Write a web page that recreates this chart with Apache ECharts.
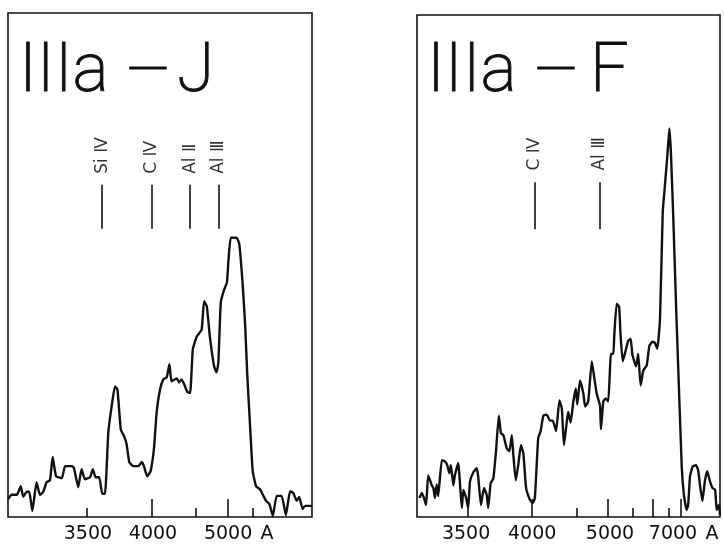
<!DOCTYPE html>
<html>
<head>
<meta charset="utf-8">
<script src="https://cdn.jsdelivr.net/npm/echarts@6/dist/echarts.min.js"></script>
<style>
html,body{margin:0;padding:0;background:#fff;}
#chart{width:724px;height:544px;}
</style>
</head>
<body>
<div id="chart"></div>
<script>
// ---- Data (plate position 0-100 across each box, relative intensity 0-100) ----
const leftPos = [0.1,1.2,2.9,4.2,5.0,6.2,7.0,8.0,9.4,10.5,11.6,12.7,13.8,14.7,15.8,17.7,18.8,21.0,21.7,23.1,24.2,25.3,27.0,27.9,28.8,30.0,31.0,31.9,33.0,34.1,35.2,36.0,37.1,38.2,39.0,39.9,41.2,42.9,44.0,44.7,45.8,46.9,48.0,48.9,50.0,51.1,52.2,53.1,53.8,55.5,56.3,57.1,58.0,59.0,59.9,60.8,62.1,63.7,64.5,65.4,66.4,67.8,68.6,69.2,70.0,71.1,72.0,72.5,73.3,75.2,76.1,77.2,78.0,78.7,79.6,80.5,81.6,82.9,84.0,84.9,86.0,87.1,88.4,90.0,91.4,92.8,93.8,95.0,95.8,96.9,97.7,100];
const leftIntensity = [3.6,4.4,4.4,6.1,4.0,5.0,5.0,1.2,6.9,4.4,5.0,6.9,7.3,11.9,8.1,7.7,10.1,10.1,9.7,5.9,9.5,7.5,7.9,9.5,7.9,7.9,4.6,4.6,16.8,22.0,25.9,25.3,17.4,16.0,14.5,10.9,10.1,10.1,10.9,10.1,8.1,9.1,13.5,20.8,25.3,27.3,27.7,30.3,26.9,27.5,26.7,27.3,26.3,24.8,24.6,33.3,35.8,37.2,42.8,41.8,35.8,29.9,28.7,30.7,42.6,45.1,46.5,50.7,55.4,55.4,54.1,46.1,38.2,28.3,18.4,9.1,6.1,5.5,4.2,3.2,2.6,0.2,4.2,4.2,0.4,5.1,4.8,3.2,4.0,1.6,2.2,2.2];

const rightPos = [0.8,1.6,2.3,3.0,3.7,4.9,5.4,5.9,6.5,7.0,8.2,9.2,10.0,10.7,11.2,12.0,12.5,13.6,14.8,15.3,16.2,16.9,17.5,18.6,19.7,20.2,21.1,22.1,23.0,23.5,24.3,25.2,26.1,27.0,27.7,28.5,29.6,30.5,31.3,31.8,32.6,33.4,34.3,35.1,36.0,37.3,38.2,38.9,40.0,40.8,41.7,42.8,43.9,44.8,45.9,47.0,47.8,48.5,49.4,49.9,50.7,51.6,52.4,52.9,53.8,54.9,55.5,56.5,57.7,58.4,59.3,60.4,60.7,61.5,62.3,63.1,63.7,64.0,64.8,65.1,65.9,66.7,67.2,67.9,68.6,69.7,70.5,71.1,72.3,73.0,73.8,74.7,75.8,76.7,77.7,78.5,79.3,80.2,81.1,81.8,82.7,83.3,83.8,84.6,85.5,86.6,87.4,88.1,89.0,89.5,90.1,91.0,92.1,92.8,93.4,94.2,95.0,95.8,96.7,97.5,98.4,98.9,99.6,100];
const rightIntensity = [3.8,4.8,3.8,2.4,8.3,6.3,5.8,3.8,6.5,4.2,11.3,11.1,10.3,8.7,10.3,6.3,8.3,10.7,1.8,5.4,3.8,1.8,7.1,8.9,9.7,8.1,2.4,5.8,4.4,1.8,6.7,7.7,13.3,20.2,16.7,16.3,13.7,13.1,16.3,12.3,7.3,10.3,14.3,12.7,5.8,3.4,2.8,3.8,15.7,17.1,20.2,20.4,19.2,19.2,17.1,23.2,21.6,14.3,18.8,21.0,18.8,23.0,25.6,22.4,27.2,24.6,22.0,23.0,31.0,28.2,24.6,22.2,17.5,23.0,23.6,23.0,29.6,32.5,32.5,36.1,42.5,41.9,36.1,31.0,32.5,35.1,35.5,32.3,30.0,32.5,26.2,29.2,30.2,34.1,34.9,34.7,33.5,39.5,60.7,65.9,72.6,77.4,72.6,59.3,42.1,23.0,9.7,4.4,1.4,2.4,8.1,10.1,10.3,9.3,6.3,3.2,7.1,9.1,7.1,5.8,5.4,1.4,2.4,0.4];

// wavelength ticks (plate positions)
const leftMajorTicks = [47.4, 72.4];              // 4000, 5000
const leftMinorTicks = [26.0, 61.8, 80.6];        // 3500, 4500, 5500
const leftTickLabels = ['3500', '4000', '5000', 'A'];
const leftTickLabelPos = [26.3, 47.7, 72.4, 85.2];

const rightMajorTicks = [16.8, 38.0, 63.1, 77.7, 87.1]; // 3500, 4000, 5000, 6000, 7000
const rightMinorTicks = [52.8, 71.1, 83.2];             // 4500, 5500, 6500
const rightTickLabels = ['3500', '4000', '5000', '7000', 'A'];
const rightTickLabelPos = [16.2, 38.0, 63.7, 84.5, 97.4];

// emission line identifications
const leftLineNames = ['Si Ⅳ', 'C Ⅳ', 'Al Ⅱ', 'Al Ⅲ'];
const leftLinePos = [31.0, 47.3, 59.9, 69.2];
const rightLineNames = ['C Ⅳ', 'Al Ⅲ'];
const rightLinePos = [38.9, 60.2];

// panel titles
const leftTitle = ['IIIa', '—', 'J'];
const rightTitle = ['IIIa', '—', 'F'];

// ---- Build ----
const INK = '#111';
const zip = (a, b) => a.map((v, i) => [v, b[i]]);

function xAxes(grid, major, minor, labelPos, labels) {
  return [
    {
      gridIndex: grid, type: 'value', min: 0, max: 100, position: 'bottom',
      axisLine: { show: false }, splitLine: { show: false },
      axisTick: { show: true, inside: true, length: 18, customValues: major, lineStyle: { color: INK, width: 1.6 } },
      axisLabel: {
        show: true, customValues: labelPos, margin: 8,
        formatter: v => labels[labelPos.indexOf(v)],
        fontFamily: 'DejaVu Sans', fontSize: 19, color: INK
      }
    },
    {
      gridIndex: grid, type: 'value', min: 0, max: 100, position: 'bottom', offset: 0,
      axisLine: { show: false }, splitLine: { show: false },
      axisTick: { show: true, inside: true, length: 9, customValues: minor, lineStyle: { color: INK, width: 1.6 } },
      axisLabel: { show: false }
    }
  ];
}

function labelSeries(xi, yi, names, pos, labelY, lineLo, lineHi) {
  return {
    type: 'scatter', xAxisIndex: xi, yAxisIndex: yi, symbolSize: 0, silent: true,
    data: pos.map((p, i) => ({ value: [p, labelY], name: names[i] })),
    label: {
      show: true, position: 'inside', formatter: p => p.name, rotate: 90,
      align: 'left', verticalAlign: 'middle',
      fontFamily: 'DejaVu Sans', fontSize: 17, color: '#000'
    },
    markLine: {
      silent: true, symbol: ['none', 'none'], animation: false,
      lineStyle: { color: INK, width: 1.6, type: 'solid' },
      label: { show: false },
      data: pos.map(p => [{ coord: [p, lineLo] }, { coord: [p, lineHi] }])
    }
  };
}

function titleTexts(parts, xs, y) {
  return parts.map((t, i) => ({
    type: 'text', x: xs[i], y: y,
    style: {
      text: t, fill: INK, stroke: INK, lineWidth: 0.9, fontFamily: 'Roboto', fontWeight: 200,
      fontSize: i === 1 ? 56 : 68, align: i === 1 ? 'center' : 'left', verticalAlign: 'middle'
    }
  }));
}

const chart = echarts.init(document.getElementById('chart'), null, { renderer: 'canvas' });
chart.setOption({
  backgroundColor: '#fff',
  animation: false,
  grid: [
    { left: 8, top: 13, width: 304, height: 505, show: true, borderColor: INK, borderWidth: 1.6, backgroundColor: 'transparent' },
    { left: 417, top: 15, width: 303, height: 504, show: true, borderColor: INK, borderWidth: 1.6, backgroundColor: 'transparent' }
  ],
  xAxis: [
    ...xAxes(0, leftMajorTicks, leftMinorTicks, leftTickLabelPos, leftTickLabels),
    ...xAxes(1, rightMajorTicks, rightMinorTicks, rightTickLabelPos, rightTickLabels)
  ],
  yAxis: [
    { gridIndex: 0, type: 'value', min: 0, max: 100, show: false },
    { gridIndex: 1, type: 'value', min: 0, max: 100, show: false }
  ],
  series: [
    { type: 'line', xAxisIndex: 0, yAxisIndex: 0, data: zip(leftPos, leftIntensity), showSymbol: false, smooth: 0.15,
      lineStyle: { color: INK, width: 2.4, join: 'round' } },
    { type: 'line', xAxisIndex: 2, yAxisIndex: 1, data: zip(rightPos, rightIntensity), showSymbol: false, smooth: 0.15,
      lineStyle: { color: INK, width: 2.4, join: 'round' } },
    labelSeries(0, 0, leftLineNames, leftLinePos, 68.1, 57.2, 65.9),
    labelSeries(2, 1, rightLineNames, rightLinePos, 69.0, 57.3, 66.7)
  ],
  graphic: [
    ...titleTexts(leftTitle, [19, 148, 177], 74),
    ...titleTexts(rightTitle, [427, 556, 590], 74)
  ]
});
</script>
</body>
</html>
